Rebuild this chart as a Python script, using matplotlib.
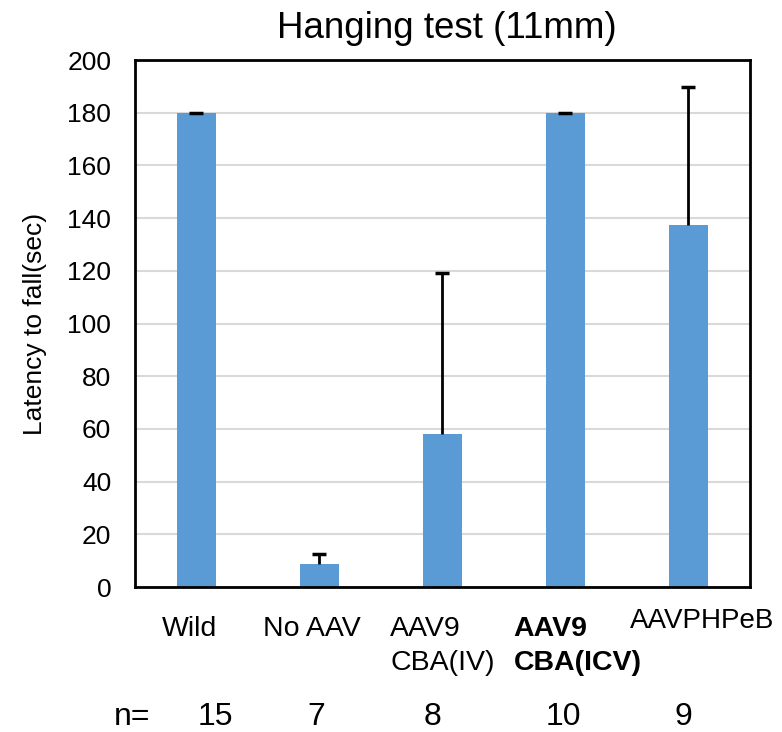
import matplotlib.pyplot as plt
import matplotlib.transforms as mtransforms
import numpy as np

plt.rcParams['font.family'] = ['Liberation Sans', 'DejaVu Sans']

# data
groups = ['Wild', 'No AAV', 'AAV9\nCBA(IV)', 'AAV9\nCBA(ICV)', 'AAVPHPeB']
latency = [180, 8.7, 57.9, 180, 137.4]
sem = [0, 3.8, 61.3, 0, 52.2]
n_mice = [15, 7, 8, 10, 9]
bold_group = 'AAV9\nCBA(ICV)'

fig = plt.figure(figsize=(7.82, 7.32), dpi=100)
ax = fig.add_axes([0.1726, 0.198, 0.7864, 0.720])

x = np.arange(len(groups))
ax.bar(x, latency, width=0.31, color='#5B9BD5', zorder=2)
eb = ax.errorbar(x, latency, yerr=[np.zeros(len(sem)), sem], fmt='none',
                 ecolor='black', elinewidth=2, capsize=5, capthick=2.5, zorder=3)
# only the upper cap, like Excel "plus" error bars
eb[1][0].set_visible(False)

ax.set_xlim(-0.5, len(groups) - 0.5)
ax.set_ylim(0, 200)
ax.set_yticks(np.arange(0, 201, 20))
ax.tick_params(axis='y', length=0, labelsize=19, pad=17)
ax.set_xticks([])
ax.grid(True, axis='y', color='#D9D9D9', linewidth=1.5, zorder=0)
ax.set_axisbelow(True)
for sp in ax.spines.values():
    sp.set_color('black')
    sp.set_linewidth(2)

ax.set_title('Hanging test (11mm)', fontsize=26.5, pad=16, x=0.507)
ax.set_ylabel('Latency to fall(sec)', fontsize=19, labelpad=15)

# category labels below the axis (Excel-like placement)
trans = mtransforms.blended_transform_factory(ax.transData, fig.transFigure)
label_shift = [-0.055, -0.065, 0.0, 0.1, 0.11]
for i, g in enumerate(groups):
    last = i == len(groups) - 1
    ax.text(i + label_shift[i], 0.158 if not last else 0.142, g, transform=trans,
            ha='center', va='top' if not last else 'baseline',
            multialignment='left', fontsize=20.5 if not last else 20,
            fontweight='bold' if g == bold_group else 'normal',
            linespacing=1.38, clip_on=False)

# sample sizes
n_shift = [0.15, -0.03, -0.08, -0.02, -0.04]
ax.text(-0.52, 0.01, 'n=', transform=trans, ha='center', va='baseline',
        fontsize=23, clip_on=False)
for i, n in enumerate(n_mice):
    ax.text(i + n_shift[i], 0.01, str(n), transform=trans, ha='center',
            va='baseline', fontsize=23, clip_on=False)

fig.savefig('out.png', dpi=100, facecolor='white')
